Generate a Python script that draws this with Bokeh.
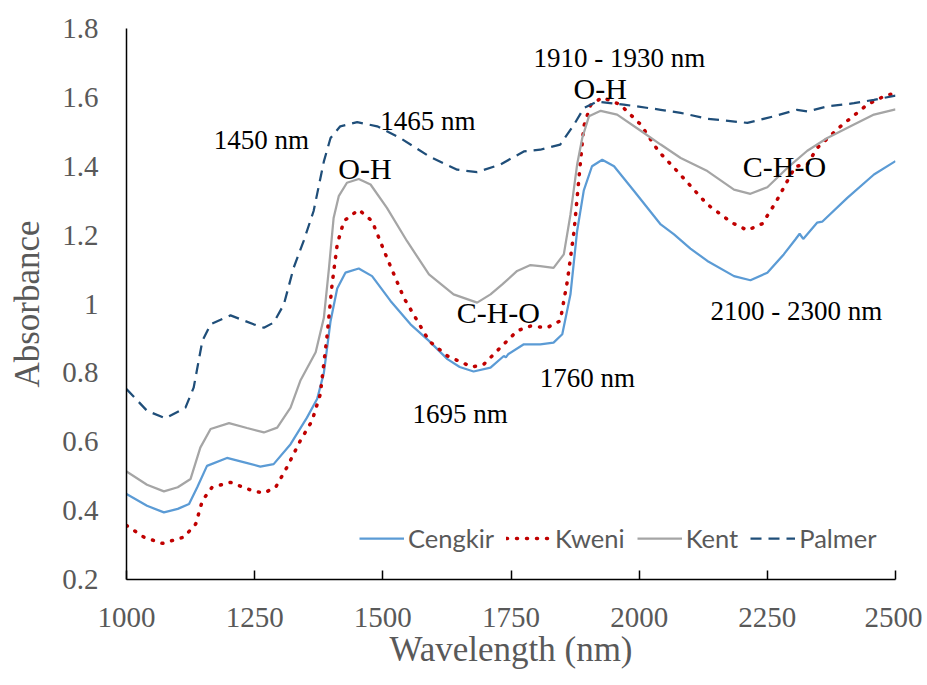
from bokeh.plotting import figure
from bokeh.models import Label, FixedTicker, Range1d
from bokeh.embed import file_html
from bokeh.resources import INLINE

# ---------------- data ----------------
cengkir_wl = [1000, 1040, 1073, 1100, 1122, 1138, 1157, 1196, 1230, 1261, 1287, 1320, 1352, 1372,
              1385, 1398, 1411, 1427, 1453, 1479, 1515, 1554, 1590, 1626, 1650, 1677, 1710, 1736,
              1740, 1745, 1775, 1807, 1833, 1850, 1866, 1879, 1892, 1908, 1928, 1951, 1990, 2042,
              2068, 2100, 2133, 2185, 2217, 2250, 2282, 2305, 2313, 2320, 2347, 2357, 2406, 2458,
              2500]
cengkir_abs = [0.448, 0.414, 0.395, 0.405, 0.419, 0.468, 0.530, 0.553, 0.540, 0.528, 0.535, 0.593,
               0.670, 0.725, 0.800, 0.950, 1.045, 1.091, 1.103, 1.081, 1.009, 0.941, 0.893, 0.840,
               0.817, 0.804, 0.815, 0.849, 0.845, 0.855, 0.883, 0.883, 0.888, 0.912, 1.028, 1.212,
               1.330, 1.400, 1.419, 1.400, 1.328, 1.231, 1.202, 1.161, 1.125, 1.081, 1.069, 1.091,
               1.144, 1.188, 1.204, 1.189, 1.236, 1.239, 1.308, 1.376, 1.415]

kweni_wl = [1000, 1034, 1070, 1112, 1135, 1148, 1167, 1203, 1245, 1268, 1291, 1313, 1339, 1362,
            1378, 1391, 1401, 1411, 1424, 1453, 1479, 1508, 1541, 1590, 1626, 1674, 1697, 1729,
            1762, 1788, 1820, 1846, 1860, 1873, 1882, 1892, 1905, 1928, 1963, 2003, 2038, 2074,
            2133, 2181, 2211, 2240, 2266, 2289, 2305, 2328, 2347, 2393, 2445, 2484, 2500]
kweni_abs = [0.357, 0.323, 0.305, 0.323, 0.361, 0.429, 0.468, 0.482, 0.458, 0.451, 0.468, 0.526,
             0.603, 0.661, 0.738, 0.905, 1.057, 1.173, 1.241, 1.274, 1.241, 1.134, 1.018, 0.893,
             0.849, 0.817, 0.825, 0.873, 0.922, 0.936, 0.931, 0.951, 1.067, 1.212, 1.357, 1.516,
             1.577, 1.600, 1.579, 1.521, 1.443, 1.386, 1.289, 1.236, 1.214, 1.233, 1.294, 1.357,
             1.400, 1.405, 1.453, 1.516, 1.579, 1.608, 1.610]

kent_wl = [1000, 1040, 1073, 1100, 1125, 1144, 1164, 1200, 1235, 1268, 1294, 1320, 1339, 1369,
           1385, 1395, 1404, 1414, 1430, 1453, 1476, 1508, 1547, 1590, 1638, 1684, 1710, 1733,
           1762, 1788, 1807, 1833, 1853, 1866, 1879, 1889, 1902, 1925, 1957, 2003, 2042, 2081,
           2133, 2185, 2217, 2250, 2289, 2328, 2367, 2419, 2458, 2500]
kent_abs = [0.514, 0.475, 0.456, 0.468, 0.492, 0.583, 0.637, 0.654, 0.640, 0.627, 0.641, 0.699,
            0.777, 0.860, 0.960, 1.105, 1.250, 1.313, 1.352, 1.363, 1.347, 1.279, 1.183, 1.086,
            1.028, 1.004, 1.028, 1.057, 1.096, 1.113, 1.110, 1.105, 1.144, 1.260, 1.405, 1.482,
            1.545, 1.561, 1.550, 1.503, 1.463, 1.424, 1.386, 1.332, 1.320, 1.339, 1.395, 1.445,
            1.482, 1.521, 1.550, 1.565]

palmer_wl = [1000, 1040, 1076, 1115, 1131, 1148, 1164, 1203, 1248, 1268, 1287, 1307, 1326, 1346,
             1365, 1385, 1398, 1417, 1450, 1489, 1534, 1590, 1645, 1684, 1729, 1775, 1807, 1846,
             1873, 1892, 1918, 1970, 2042, 2081, 2133, 2211, 2263, 2308, 2328, 2367, 2419, 2458,
             2500]
palmer_abs = [0.753, 0.690, 0.668, 0.699, 0.757, 0.893, 0.941, 0.967, 0.941, 0.931, 0.946, 0.999,
              1.105, 1.185, 1.270, 1.414, 1.482, 1.516, 1.528, 1.516, 1.482, 1.429, 1.390, 1.383,
              1.405, 1.443, 1.448, 1.463, 1.521, 1.569, 1.588, 1.579, 1.564, 1.555, 1.538, 1.526,
              1.545, 1.564, 1.559, 1.574, 1.583, 1.593, 1.605]

x_ticks = [1000, 1250, 1500, 1750, 2000, 2250, 2500]
y_ticks = [0.2, 0.4, 0.6, 0.8, 1.0, 1.2, 1.4, 1.6, 1.8]
y_tick_labels = ["0.2", "0.4", "0.6", "0.8", "1", "1.2", "1.4", "1.6", "1.8"]

# annotations
ann_texts = ["1450 nm", "1465 nm", "O-H", "1910 - 1930 nm", "O-H", "C-H-O", "1760 nm",
             "1695 nm", "C-H-O", "2100 - 2300 nm"]
ann_x = [1170, 1495, 1413, 1794, 1872, 1644, 1806, 1558, 2202, 2139]
ann_y = [1.475, 1.530, 1.394, 1.713, 1.626, 0.974, 0.786, 0.681, 1.400, 0.980]
ann_big = [False, False, True, False, True, True, False, False, True, False]

# ---------------- figure ----------------
p = figure(width=922, height=684, output_backend="svg", toolbar_location=None,
           x_range=Range1d(1000, 2500), y_range=Range1d(0.2, 1.8),
           min_border_left=126, min_border_top=28, min_border_right=27, min_border_bottom=105)
p.outline_line_color = None
p.grid.visible = False
p.background_fill_color = "white"
p.border_fill_color = "white"

SERIF = "Liberation Serif"
GRAY = "#595959"

p.line(cengkir_wl, cengkir_abs, line_color="#5B9BD5", line_width=2.25, legend_label="Cengkir")
p.line(kweni_wl, kweni_abs, line_color="#C00000", line_width=3.5, line_dash="1 9",
       line_cap="round", legend_label="Kweni")
p.line(kent_wl, kent_abs, line_color="#A5A5A5", line_width=2.25, legend_label="Kent")
p.line(palmer_wl, palmer_abs, line_color="#1F4E79", line_width=2.25, line_dash="11 7",
       legend_label="Palmer")

# axes
xa = p.xaxis[0]
xa.ticker = FixedTicker(ticks=x_ticks)
xa.major_tick_in = 9
xa.major_tick_out = 0
xa.minor_tick_line_color = None
xa.axis_line_color = "black"
xa.axis_line_width = 1.5
xa.major_tick_line_color = "black"
xa.major_tick_line_width = 1.5
xa.major_label_text_font = SERIF
xa.major_label_text_font_size = "29px"
xa.major_label_text_color = GRAY
xa.major_label_standoff = 28
xa.axis_label = "Wavelength (nm)"
xa.axis_label_text_font = SERIF
xa.axis_label_text_font_size = "35px"
xa.axis_label_text_font_style = "normal"
xa.axis_label_text_color = GRAY
xa.axis_label_standoff = 0

ya = p.yaxis[0]
ya.ticker = FixedTicker(ticks=y_ticks)
ya.major_label_overrides = {t: l for t, l in zip(y_ticks, y_tick_labels)}
ya.major_tick_line_color = None
ya.minor_tick_line_color = None
ya.major_tick_in = 0
ya.major_tick_out = 0
ya.axis_line_color = "black"
ya.axis_line_width = 1.5
ya.major_label_text_font = SERIF
ya.major_label_text_font_size = "29px"
ya.major_label_text_color = GRAY
ya.major_label_standoff = 28
ya.axis_label = "Absorbance"
ya.axis_label_text_font = SERIF
ya.axis_label_text_font_size = "35px"
ya.axis_label_text_font_style = "normal"
ya.axis_label_text_color = GRAY
ya.axis_label_standoff = 12

# annotations
for t, x, y, big in zip(ann_texts, ann_x, ann_y, ann_big):
    p.add_layout(Label(x=x, y=y, text=t, text_font=SERIF,
                       text_font_size="30px" if big else "27px",
                       text_color="black", text_align="left", text_baseline="alphabetic"))

# legend
lg = p.legend[0]
lg.orientation = "horizontal"
lg.location = (233, 26)
lg.glyph_width = 45
lg.glyph_height = 20
lg.label_standoff = 4
lg.spacing = 12
lg.padding = 0
lg.margin = 0
lg.background_fill_alpha = 0
lg.border_line_color = None
lg.label_text_font = "Lato"
lg.label_text_font_size = "25.5px"
lg.label_text_color = GRAY

open("out.html", "w").write(file_html(p, INLINE))
